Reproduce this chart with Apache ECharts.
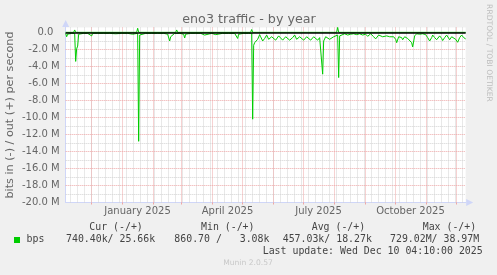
<!DOCTYPE html>
<html><head><meta charset="utf-8">
<script src="https://cdn.jsdelivr.net/npm/echarts@6/dist/echarts.min.js"></script>
<style>html,body{margin:0;padding:0;background:#F0F0F0;}#c{width:497px;height:275px;}</style>
</head><body><div id="c"></div>
<script>
// ---- data (values in Mbit/s; "in" drawn negative, "out" positive) ----
const startTime = '2024-11-05T04:10:00Z';
const spanDays = 400;
const monthStarts = ['2024-12-01','2025-01-01','2025-02-01','2025-03-01','2025-04-01','2025-05-01','2025-06-01','2025-07-01','2025-08-01','2025-09-01','2025-10-01','2025-11-01','2025-12-01'];
const firstWeekStart = '2024-11-10';
const xLabelTexts = ['January 2025','April 2025','July 2025','October 2025'];
const xLabelDates = ['2025-01-16','2025-04-16','2025-07-16','2025-10-16'];
const yMajorTicks = [-20,-18,-16,-14,-12,-10,-8,-6,-4,-2,0];
const yMinorTicks = [-19,-17,-15,-13,-11,-9,-7,-5,-3,-1];

const inDays = [0,1,2,3,6,9,10,11,12,13,14,18,22,24,26,27,32,38,44,50,56,62,67,69,72,73,74,75,80,86,92,98,102,104,105,107,109,114,118,119,120,125,130,135,139,140,146,150,151,157,163,169,171,172,173,178,183,186,187,188,189,190,192,194,195,197,199,201,203,204,206,208,210,211,213,215,217,218,220,222,224,225,227,229,231,232,234,236,238,239,241,243,245,246,248,250,252,254,256,257,258,260,262,264,266,268,270,272,273,274,276,279,282,285,288,291,294,297,300,302,305,308,310,313,314,317,319,321,322,324,326,328,330,331,333,334,336,337,339,340,342,344,346,347,349,351,354,357,360,362,364,366,367,369,371,372,374,376,377,379,381,382,384,386,387,390,392,394,396,398,399,400];
const inValues = [-0.1,-0.5,-0.2,-0.1,-0.1,-0.1,-3.4,-1.9,-1.6,-0.2,-0.1,-0.1,-0.1,-0.15,-0.4,-0.1,-0.1,-0.1,-0.1,-0.15,-0.1,-0.1,-0.2,-0.1,-0.1,-12.8,-0.3,-0.1,-0.1,-0.1,-0.1,-0.1,-0.2,-1.0,-0.5,-0.4,-0.1,-0.1,-0.2,-0.65,-0.2,-0.1,-0.1,-0.1,-0.3,-0.1,-0.1,-0.25,-0.1,-0.1,-0.1,-0.1,-0.3,-0.7,-0.2,-0.1,-0.1,-0.1,-10.2,-1.5,-1.2,-1.0,-0.8,-0.25,-0.5,-1.0,-0.7,-0.3,-0.8,-1.0,-0.5,-0.3,-0.9,-1.0,-0.4,-0.3,-0.9,-1.0,-0.5,-0.3,-0.9,-1.05,-0.6,-0.3,-0.8,-1.0,-0.5,-0.35,-0.9,-1.0,-0.5,-0.35,-0.9,-0.95,-0.5,-0.4,-0.9,-0.6,-0.8,-4.9,-1.0,-0.5,-0.3,-0.8,-0.9,-0.5,-0.4,-0.3,-5.3,-0.4,-0.2,-0.15,-0.3,-0.2,-0.15,-0.25,-0.15,-0.3,-0.2,-0.45,-0.15,-0.5,-0.75,-0.3,-0.25,-0.5,-0.65,-0.4,-0.3,-0.5,-0.7,-0.5,-0.8,-1.2,-0.5,-0.3,-0.6,-0.85,-0.5,-0.4,-0.7,-0.85,-1.2,-1.7,-0.4,-0.15,-0.2,-0.15,-0.25,-0.6,-1.0,-0.6,-0.3,-0.6,-0.85,-0.7,-0.4,-0.7,-0.95,-0.6,-0.3,-0.5,-0.85,-0.5,-0.35,-0.8,-1.15,-0.6,-0.3,-0.6,-0.8,-0.75];
const outDays = [0,8,9,10,71,72,73,110,111,112,185,186,187,271,272,273,400];
const outValues = [0.02,0.02,0.3,0.02,0.02,0.5,0.02,0.02,0.3,0.02,0.02,0.35,0.02,0.02,0.6,0.02,0.02];

const legendHeaders = ['Cur (-/+)','Min (-/+)','Avg (-/+)','Max (-/+)'];
const legendValues = ['740.40k/ 25.66k','860.70 /   3.08k','457.03k/ 18.27k','729.02M/ 38.97M'];
const lastUpdate = 'Last update: Wed Dec 10 04:10:00 2025';

// ---- derived ----
const START = Date.parse(startTime);
const dayOf = s => (Date.parse(s + 'T00:00:00Z') - START) / 86400000;
const monthDays = monthStarts.map(dayOf);
const labelDays = xLabelDates.map(dayOf);
const weekDays = [];
for (let d = dayOf(firstWeekStart); d < spanDays; d += 7) weekDays.push(d);

const GREEN = '#00CC00', MAJOR = '#EDA6A6', MINOR = '#D2D2D2', AXIS = '#CFD6F8', FONT = '#666666';
const dotted = c => ({color: c, width: 1, type: [1, 1]});
const gridLines = [].concat(
  weekDays.map(d => ({xAxis: d, lineStyle: dotted(MINOR)})),
  yMinorTicks.map(v => ({yAxis: v, lineStyle: dotted(MINOR)})),
  monthDays.map(d => ({xAxis: d, lineStyle: dotted(MAJOR)})),
  yMajorTicks.filter(v => v !== 0 && v !== -20).map(v => ({yAxis: v, lineStyle: dotted(MAJOR)}))
);

const chart = echarts.init(document.getElementById('c'), null, {renderer: 'canvas'});
const T = (text, x, y, o) => ({type: 'text', x, y, silent: true, z: 100, style: Object.assign({text, fill: FONT, fontFamily: 'DejaVu Sans', fontSize: 10, align: 'left', verticalAlign: 'middle'}, o || {})});
const mono = {fontFamily: 'DejaVu Sans Mono', fontSize: 9.9, fill: '#444'};
const graphics = [
  T('eno3 traffic - by year', 249, 19.5, {fontSize: 12.7, align: 'center'}),
  Object.assign(T('bits in (-) / out (+) per second', 10, 115, {fontSize: 11.2, align: 'center'}), {rotation: Math.PI / 2}),
  Object.assign(T('RRDTOOL / TOBI OETIKER', 488.5, 53, {fontSize: 7.6, align: 'center', fill: '#BDBDBD'}), {rotation: -Math.PI / 2}),
  {type: 'rect', shape: {x: 14, y: 237, width: 6, height: 6}, style: {fill: GREEN}, silent: true, z: 100},
  T('bps', 26.5, 239.8, mono),
  T(lastUpdate, 482.7, 251.8, Object.assign({}, mono, {align: 'right'})),
  T('Munin 2.0.57', 248, 263.5, {fontSize: 7.6, align: 'center', fill: '#C8C8C8'})
];
const headerX = [89.3, 201, 311.7, 422.7];
const valueX = [66, 174.3, 282.7, 390];
legendHeaders.forEach((h, i) => graphics.push(T(h, headerX[i], 227, mono)));
legendValues.forEach((v, i) => graphics.push(T(v, valueX[i], 239.8, mono)));

chart.setOption({
  animation: false,
  backgroundColor: '#F0F0F0',
  grid: {left: 65.67, right: 31.33, top: 27.4, height: 175.1, show: true, backgroundColor: '#FFFFFF', borderWidth: 0, outerBoundsMode: 'none', containLabel: false},
  xAxis: [{
    type: 'value', min: 0, max: spanDays,
    axisLine: {show: true, onZero: false, lineStyle: {color: AXIS, width: 1}, symbol: ['none', 'triangle'], symbolSize: [7, 7], symbolOffset: [0, 4]},
    axisTick: {show: true, customValues: monthDays, length: 2, inside: false, lineStyle: {color: MAJOR}},
    axisLabel: {show: true, customValues: labelDays, margin: 4, color: FONT, fontFamily: 'DejaVu Sans', fontSize: 10,
      formatter: v => { let best = 0; labelDays.forEach((d, i) => { if (Math.abs(d - v) < Math.abs(labelDays[best] - v)) best = i; }); return xLabelTexts[best]; }},
    splitLine: {show: false}
  }, {
    type: 'value', min: 0, max: spanDays, position: 'bottom',
    axisLine: {show: false},
    axisTick: {show: true, customValues: weekDays, length: 2, lineStyle: {color: MINOR}},
    axisLabel: {show: false}, splitLine: {show: false}
  }],
  yAxis: {
    type: 'value', min: -20, max: 0.6, interval: 2,
    axisLine: {show: true, lineStyle: {color: AXIS, width: 1}, symbol: ['none', 'triangle'], symbolSize: [7, 7], symbolOffset: [0, 4]},
    axisTick: {show: false},
    axisLabel: {showMaxLabel: false, margin: 6, color: FONT, fontFamily: 'DejaVu Sans', fontSize: 10,
      formatter: v => Math.abs(v - Math.round(v)) > 1e-6 ? '' : (Math.round(v) === 0 ? '0.0  ' : v.toFixed(1) + ' M')},
    splitLine: {show: false}
  },
  series: [{
    name: 'out', type: 'line', z: 3, symbol: 'none', silent: true,
    data: outDays.map((d, i) => [d, outValues[i]]),
    lineStyle: {color: GREEN, width: 1},
    markLine: {silent: true, z: 1, symbol: ['none', 'none'], label: {show: false}, emphasis: {disabled: true}, animation: false, data: gridLines}
  }, {
    name: 'in', type: 'line', z: 4, symbol: 'none', silent: true,
    data: inDays.map((d, i) => [d, inValues[i]]),
    lineStyle: {color: GREEN, width: 1},
    markLine: {silent: true, z: 10, symbol: ['none', 'none'], label: {show: false}, emphasis: {disabled: true}, animation: false,
      data: [{yAxis: 0, lineStyle: {color: '#000000', width: 1.5, type: 'solid'}}]}
  }],
  graphic: graphics
});
</script></body></html>
